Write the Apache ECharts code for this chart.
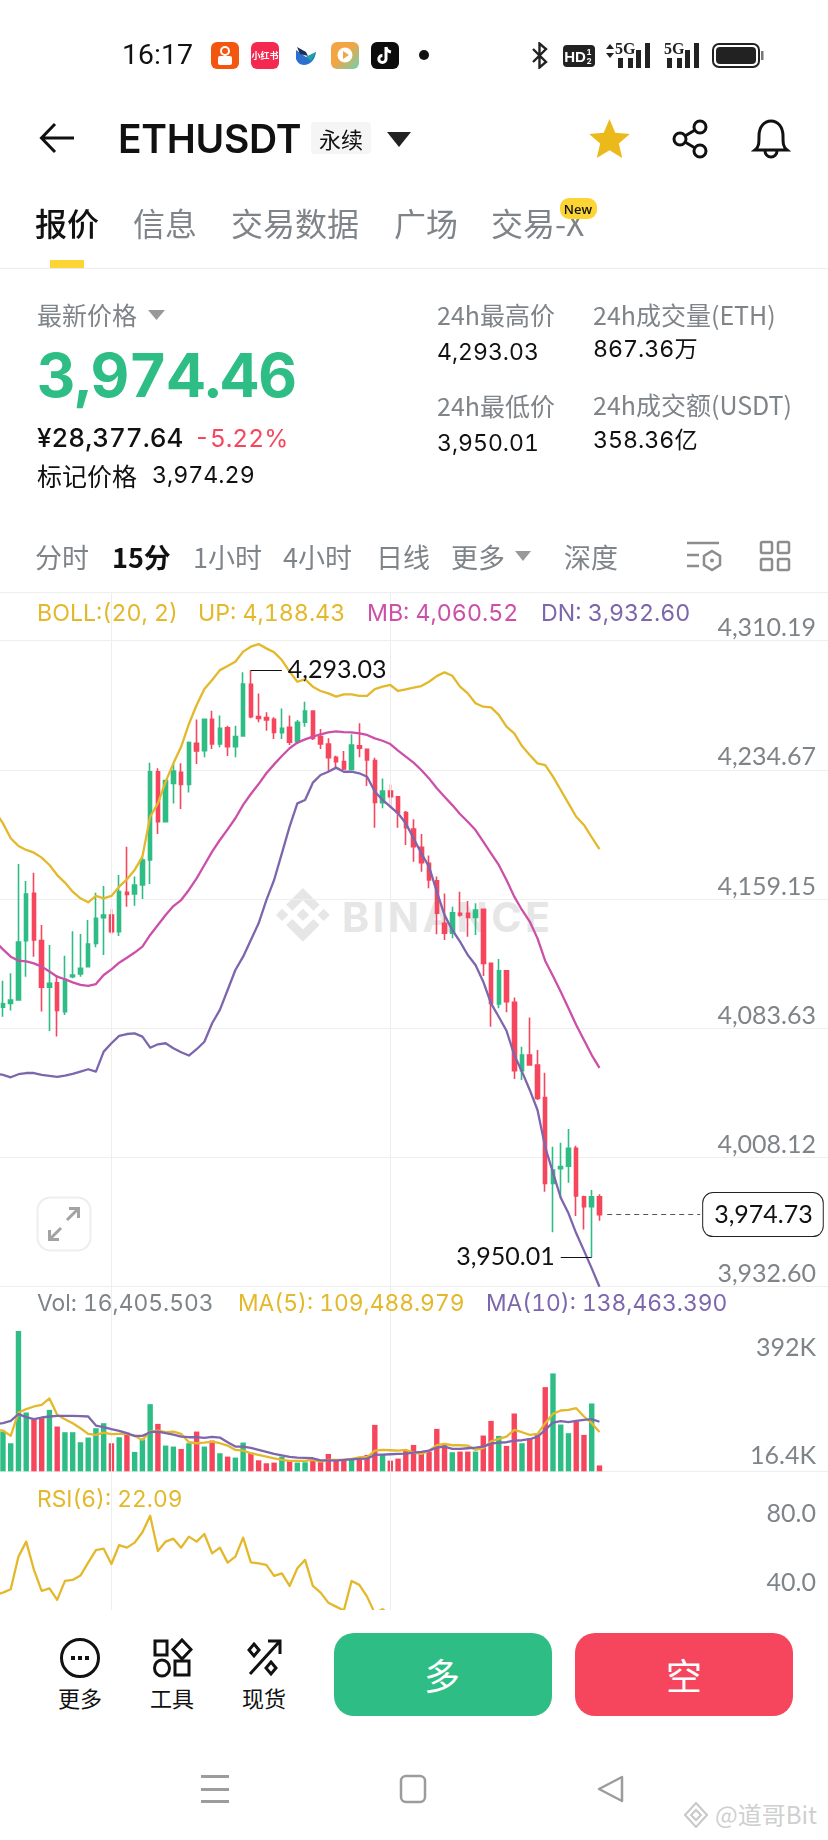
<!DOCTYPE html>
<html>
<head>
<meta charset="utf-8">
<title>ETHUSDT</title>
<script src="https://cdn.jsdelivr.net/npm/echarts@6/dist/echarts.min.js"></script>
<style>
html,body{margin:0;padding:0;background:#fff}
body{position:relative;width:828px;height:1840px;overflow:hidden;font-family:Inter,"Noto Sans CJK SC",sans-serif;font-variant-numeric:tabular-nums}
#main{position:absolute;left:-20px;top:0;width:848px;height:1840px;z-index:1}
.t{position:absolute;white-space:nowrap;line-height:1;transform:translateY(-50%);z-index:2}
.c{transform:translate(-50%,-50%)}
.g{color:#7f8489}
.k{color:#111}
.abs{position:absolute;z-index:2}
.cn{font-family:"Noto Sans CJK SC",sans-serif}
#foot{position:absolute;left:0;top:1610px;width:828px;height:230px;background:#fff;z-index:2}
.ind{font-size:23.2px;font-weight:400}
.ind2{font-size:22.8px;font-weight:400}
</style>
</head>
<body>
<!-- 水印 -->
<svg class="abs" style="left:276px;top:888px;z-index:0" width="54" height="54" viewBox="0 0 126 126" fill="#e6e6e6">
  <path d="M38.171 53.203L62.759 28.616l24.6 24.6 14.307-14.307L62.759 0 23.864 38.896zM0 62.759l14.307-14.308 14.307 14.307-14.307 14.308zM38.171 72.315L62.759 96.902l24.6-24.6 14.313 14.3-.007.007L62.759 125.518 23.864 86.623l-.021-.021zM96.901 62.759l14.307-14.308 14.307 14.307-14.307 14.308zM77.271 62.751h.006v.006L62.759 77.275 48.25 62.765l-.021-.021.021-.02 2.541-2.541 1.235-1.235L62.759 48.24l14.52 14.518z"/>
</svg>
<div class="t" style="left:342px;top:917px;font-size:41px;font-weight:700;color:#e6e6e6;letter-spacing:3.5px;z-index:0">BINANCE</div>

<div id="main"></div>

<!-- 状态栏 -->
<div class="t k" style="left:122px;top:55px;font-size:28.500px;font-family:Roboto">16:17</div>
<div class="abs" style="left:211px;top:42px;width:28px;height:27px;border-radius:6px;background:#f4550f"></div>
<div class="abs" style="left:220px;top:46px;width:10px;height:10px;border:2px solid #fff;border-radius:50%;box-sizing:border-box"></div>
<div class="abs" style="left:218px;top:56px;width:14px;height:9px;background:#fff;border-radius:2px"></div>
<div class="abs" style="left:251px;top:42px;width:28px;height:27px;border-radius:6px;background:#f5294f"></div>
<div class="t c cn" style="left:265px;top:55px;font-size:9px;font-weight:700;color:#fff">小红书</div>
<svg class="abs" style="left:294px;top:44px" width="24" height="24" viewBox="0 0 24 24"><path d="M2 6l10 7 10-5c-1 8-6 13-12 13-4 0-7-3-8-6z" fill="#2d6fd0"/><path d="M3 3l9 5 2 4-8-2z" fill="#1c2f5a"/><path d="M12 13l10-5-5 9z" fill="#18a7a0"/></svg>
<div class="abs" style="left:331px;top:42px;width:28px;height:27px;border-radius:6px;background:linear-gradient(135deg,#f3a443 45%,#6dd2b0)"></div>
<svg class="abs" style="left:337px;top:47px" width="16" height="16" viewBox="0 0 16 16"><circle cx="8" cy="8" r="7.5" fill="#fff"/><path d="M6 4l6 4-6 4z" fill="#f3a443"/></svg>
<div class="abs" style="left:371px;top:42px;width:28px;height:27px;border-radius:6px;background:#0c0c0c"></div>
<svg class="abs" style="left:377px;top:45px" width="17" height="21" viewBox="0 0 17 21" fill="none" stroke-width="3"><path d="M9 2v12a3.6 3.6 0 1 1-3.6-3.6M9 2c.4 3 2.4 4.6 5 5" stroke="#fff"/></svg>
<div class="abs" style="left:419px;top:50px;width:10px;height:10px;border-radius:50%;background:#111"></div>

<svg class="abs" style="left:530px;top:42px" width="20" height="27" viewBox="0 0 20 27" fill="none" stroke="#222" stroke-width="2.4"><path d="M3 7l13 13-6.500 5.500V1.500L16 7 3 20"/></svg>
<div class="abs" style="left:563px;top:45px;width:32px;height:22px;border-radius:4px;background:#222"></div>
<div class="t c" style="left:575px;top:56px;font-size:15px;font-weight:700;color:#fff;font-family:'Liberation Sans Narrow','Liberation Sans'">HD</div>
<div class="t c" style="left:589px;top:52px;font-size:8px;font-weight:700;color:#fff">1</div>
<div class="t c" style="left:589px;top:61px;font-size:8px;font-weight:700;color:#fff">2</div>
<svg class="abs" style="left:605px;top:42px" width="12" height="18" viewBox="0 0 12 18" fill="#222"><path d="M5 2l4 5H1zM5 16l4-5H1z"/></svg>
<div class="t" style="left:615px;top:49px;font-size:16px;font-weight:700;color:#222;font-family:'Liberation Sans Narrow'">5G</div>
<svg class="abs" style="left:617px;top:42px" width="34" height="26" viewBox="0 0 34 26" fill="#222"><rect x="1" y="16" width="5" height="10"/><rect x="11" y="16" width="5" height="10"/><rect x="19" y="8" width="5" height="18"/><rect x="28" y="1" width="5" height="25"/></svg>
<div class="t" style="left:664px;top:49px;font-size:16px;font-weight:700;color:#222;font-family:'Liberation Sans Narrow'">5G</div>
<svg class="abs" style="left:666px;top:42px" width="34" height="26" viewBox="0 0 34 26" fill="#222"><rect x="1" y="16" width="5" height="10"/><rect x="11" y="16" width="5" height="10"/><rect x="19" y="8" width="5" height="18"/><rect x="28" y="1" width="5" height="25"/></svg>
<svg class="abs" style="left:712px;top:42px" width="52" height="27" viewBox="0 0 52 27"><rect x="1" y="2" width="46" height="23" rx="6" fill="none" stroke="#222" stroke-width="2"/><rect x="4" y="5" width="40" height="17" rx="4" fill="#222"/><rect x="49" y="9" width="2.500" height="9" fill="#777"/></svg>

<!-- 标题栏 -->
<svg class="abs" style="left:39px;top:122px" width="36" height="32" viewBox="0 0 36 32" fill="none" stroke="#111" stroke-width="3"><path d="M35 16H3M16 2L2.500 16 16 30"/></svg>
<div class="t k" style="left:118px;top:138px;font-size:39px;font-weight:600;letter-spacing:-.3px">ETHUSDT</div>
<div class="abs" style="left:311px;top:122px;width:60px;height:32px;background:#f5f5f5;border-radius:4px"></div>
<div class="t c k cn" style="left:341px;top:138px;font-size:22px">永续</div>
<svg class="abs" style="left:387px;top:132px" width="24" height="15" viewBox="0 0 24 15" fill="#222"><path d="M0 0h24L12 15z"/></svg>
<svg class="abs" style="left:589px;top:119px" width="41" height="39" viewBox="0 0 24 23" fill="#ecb91a"><path d="M12 0l3.400 8.100 8.600.7-6.500 5.700 2 8.500L12 18.400 4.500 23l2-8.500L0 8.800l8.600-.7z"/></svg>
<svg class="abs" style="left:671px;top:119px" width="40" height="40" viewBox="0 0 40 40" fill="none" stroke="#111" stroke-width="3"><circle cx="29" cy="8" r="6"/><circle cx="9" cy="20" r="6"/><circle cx="29" cy="32" r="6"/><path d="M14 17l10-6M14 23l10 6"/></svg>
<svg class="abs" style="left:751px;top:118px" width="40" height="42" viewBox="0 0 40 42" fill="none" stroke="#111" stroke-width="3"><path d="M4 32c4-3 4-7 4-14C8 9 13 3 20 3s12 6 12 15c0 7 0 11 4 14zM14 33a6 6 0 0 0 12 0"/></svg>

<!-- 页签 -->
<div class="t k cn" style="left:35px;top:222px;font-size:32px;font-weight:500">报价</div>
<div class="t g cn" style="left:133px;top:222px;font-size:32px">信息</div>
<div class="t g cn" style="left:231px;top:222px;font-size:32px">交易数据</div>
<div class="t g cn" style="left:394px;top:222px;font-size:32px">广场</div>
<div class="t g cn" style="left:491px;top:222px;font-size:32px">交易-X</div>
<div class="abs" style="left:560px;top:198px;width:37px;height:21px;background:#fcd535;border-radius:9px"></div>
<div class="t c k" style="left:578px;top:209px;font-size:13px;font-weight:600;font-family:'Open Sans'">New</div>
<div class="abs" style="left:50px;top:260px;width:34px;height:8px;background:#fcd535"></div>
<div class="abs" style="left:0;top:268px;width:828px;height:1px;background:#ececec"></div>

<!-- 行情 -->
<div class="t g cn" style="left:37px;top:314px;font-size:25px">最新价格</div>
<svg class="abs" style="left:148px;top:310px" width="17" height="10" viewBox="0 0 17 10" fill="#999"><path d="M0 0h17L8.500 10z"/></svg>
<div class="t" style="left:37px;top:375px;font-size:60px;font-weight:700;color:#2ebd85;letter-spacing:-.7px">3,974.46</div>
<div class="t k" style="left:37px;top:438px;font-size:26px;font-weight:500">¥28,377.64</div>
<div class="t" style="left:194px;top:438px;font-size:24.5px;color:#f6465d">-5.22%</div>
<div class="t k cn" style="left:37px;top:475px;font-size:25px">标记价格</div>
<div class="t k" style="left:152px;top:476px;font-size:23.2px">3,974.29</div>
<div class="t g cn" style="left:437px;top:314px;font-size:25px">24h最高价</div>
<div class="t k" style="left:437px;top:352px;font-size:23px">4,293.03</div>
<div class="t g cn" style="left:437px;top:405px;font-size:25px">24h最低价</div>
<div class="t k" style="left:437px;top:443px;font-size:23px">3,950.01</div>
<div class="t g cn" style="left:593px;top:314px;font-size:25px">24h成交量(ETH)</div>
<div class="t k" style="left:593px;top:350px;font-size:23.2px">867.36万</div>
<div class="t g cn" style="left:593px;top:404px;font-size:25px">24h成交额(USDT)</div>
<div class="t k" style="left:593px;top:441px;font-size:23.2px">358.36亿</div>

<!-- 周期 -->
<div class="t g cn" style="left:35px;top:556px;font-size:27px">分时</div>
<div class="t k cn" style="left:112px;top:556px;font-size:27px;font-weight:700">15分</div>
<div class="t g cn" style="left:193px;top:556px;font-size:27px">1小时</div>
<div class="t g cn" style="left:283px;top:556px;font-size:27px">4小时</div>
<div class="t g cn" style="left:376px;top:556px;font-size:27px">日线</div>
<div class="t g cn" style="left:451px;top:556px;font-size:27px">更多</div>
<svg class="abs" style="left:515px;top:551px" width="16" height="10" viewBox="0 0 16 10" fill="#999"><path d="M0 0h16L8 10z"/></svg>
<div class="t g cn" style="left:564px;top:556px;font-size:27px">深度</div>
<svg class="abs" style="left:686px;top:541px" width="36" height="31" viewBox="0 0 36 31" fill="none" stroke="#8d8d8d" stroke-width="2.500"><path d="M1 2h32M1 14h12M1 25h12M26 10l8 5v9l-8 5-8-5v-9z"/><circle cx="26" cy="19.500" r="2" fill="#8d8d8d" stroke="none"/></svg>
<svg class="abs" style="left:759px;top:540px" width="32" height="32" viewBox="0 0 32 32" fill="none" stroke="#8d8d8d" stroke-width="2.500"><rect x="2" y="2" width="11" height="11" rx="1.500"/><rect x="19" y="2" width="11" height="11" rx="1.500"/><rect x="2" y="19" width="11" height="11" rx="1.500"/><rect x="19" y="19" width="11" height="11" rx="1.500"/></svg>
<div class="abs" style="left:0;top:592px;width:828px;height:1px;background:#eeeeee"></div>

<!-- 指标说明 -->
<div class="t ind" style="left:37px;top:614px;color:#e3b92b">BOLL:(20, 2)</div>
<div class="t ind" style="left:198px;top:614px;color:#e3b92b">UP: 4,188.43</div>
<div class="t ind" style="left:367px;top:614px;color:#cc50a8">MB: 4,060.52</div>
<div class="t ind" style="left:541px;top:614px;color:#7d66ad">DN: 3,932.60</div>
<div class="t ind2 g" style="left:37px;top:1303px">Vol: 16,405.503</div>
<div class="t ind2" style="left:238px;top:1303px;color:#e3b92b">MA(5): 109,488.979</div>
<div class="t ind2" style="left:486px;top:1303px;color:#7d66ad">MA(10): 138,463.390</div>
<div class="t ind2" style="left:37px;top:1499px;color:#e3b92b">RSI(6): 22.09</div>

<!-- 放大 -->
<svg class="abs" style="left:36px;top:1196px" width="56" height="56" viewBox="0 0 56 56" fill="none"><rect x="1.500" y="1.500" width="53" height="53" rx="13" stroke="#eeeeee" stroke-width="2"/><path d="M31 24l11-11M33 12.500h9.500V22M25 32L14 43M23 43.500h-9.500V34" stroke="#a3a3a3" stroke-width="3"/></svg>

<!-- 底部 -->
<div id="foot"></div>
<svg class="abs" style="left:59px;top:1637px" width="42" height="42" viewBox="0 0 42 42"><circle cx="21" cy="21" r="18.500" fill="none" stroke="#111" stroke-width="3"/><rect x="12" y="19" width="4" height="4" fill="#111"/><rect x="19" y="19" width="4" height="4" fill="#111"/><rect x="26" y="19" width="4" height="4" fill="#111"/></svg>
<div class="t c k cn" style="left:80px;top:1697px;font-size:22px">更多</div>
<svg class="abs" style="left:153px;top:1638px" width="40" height="40" viewBox="0 0 40 40" fill="none" stroke="#111" stroke-width="3"><rect x="2" y="3" width="12" height="14"/><path d="M29 2l9 9.500-9 9.500-9-9.500z"/><ellipse cx="9" cy="30" rx="7.500" ry="8"/><rect x="22" y="23" width="14" height="14"/></svg>
<div class="t c k cn" style="left:172px;top:1697px;font-size:22px">工具</div>
<svg class="abs" style="left:247px;top:1638px" width="36" height="40" viewBox="0 0 36 40" fill="none" stroke="#111" stroke-width="3"><path d="M3 36L33 3M21 3h12v13"/><path d="M7 6l5 6-5 6-5-6zM24 24l5 6-5 6-5-6z"/></svg>
<div class="t c k cn" style="left:264px;top:1697px;font-size:22px">现货</div>
<div class="abs" style="left:334px;top:1633px;width:218px;height:83px;border-radius:20px;background:#2ebd85"></div>
<div class="t c cn" style="left:442px;top:1674px;font-size:36px;color:#fff">多</div>
<div class="abs" style="left:575px;top:1633px;width:218px;height:83px;border-radius:20px;background:#f6465d"></div>
<div class="t c cn" style="left:684px;top:1674px;font-size:36px;color:#fff">空</div>
<svg class="abs" style="left:200px;top:1774px" width="30" height="30" viewBox="0 0 30 30" fill="#9c9c9c"><rect x="1" y="1" width="28" height="3"/><rect x="1" y="14" width="28" height="3"/><rect x="1" y="26" width="28" height="3"/></svg>
<svg class="abs" style="left:398px;top:1774px" width="30" height="30" viewBox="0 0 30 30" fill="none" stroke="#9c9c9c" stroke-width="2.500"><rect x="3" y="2" width="24" height="26" rx="5"/></svg>
<svg class="abs" style="left:596px;top:1774px" width="30" height="30" viewBox="0 0 30 30" fill="none" stroke="#9c9c9c" stroke-width="2.500"><path d="M26 3v24L3 15z" stroke-linejoin="round"/></svg>
<svg class="abs" style="left:684px;top:1802px" width="24" height="26" viewBox="0 0 24 26" fill="none" stroke="#c8c8c8" stroke-width="2"><path d="M12 1l11 12-11 12L1 13z"/><path d="M12 8l5 5-5 5-5-5z"/></svg>
<div class="t cn" style="left:715px;top:1814px;font-size:24px;color:#cfcfcf">@道哥Bit</div>

<script>
// K线数据 (15分), 第一根在屏幕左边缘外
var candleOpen = [4093.0,
  4095.9,4098.2,4100.2,4134.9,4162.5,4134.9,4107.6,4110.3,4093.4,4113.8,
  4115.4,4119.7,4133.3,4148.3,4149.9,4140.1,4163.1,4162.1,4167.4,4182.0,
  4233.6,4204.4,4226.8,4233.2,4226.2,4250.2,4245.9,4264.2,4249.8,4259.3,
  4248.2,4254.5,4284.7,4265.8,4265.2,4264.2,4256.4,4259.5,4251.2,4262.5,
  4269.1,4254.1,4249.8,4242.0,4239.5,4235.0,4248.8,4246.7,4240.1,4215.5,
  4222.3,4219.0,4209.7,4200.1,4189.4,4180.1,4169.9,4145.0,4139.2,4150.8,
  4150.8,4148.5,4153.2,4121.6,4097.8,4117.3,4098.8,4058.9,4068.0,4062.2,
  4043.1,3993.0,4001.6,4003.1,4013.5,3985.2,3979.4,3985.2];
var candleClose = [4096.0,
  4097.9,4100.2,4134.1,4162.1,4135.3,4107.6,4109.9,4094.0,4112.3,4114.8,
  4118.7,4132.9,4147.9,4149.9,4140.1,4163.5,4161.9,4167.4,4182.0,4233.6,
  4204.4,4228.4,4234.0,4226.2,4250.6,4245.7,4264.2,4249.8,4259.0,4248.2,
  4254.1,4284.9,4265.8,4264.8,4263.8,4256.6,4259.0,4250.8,4262.5,4269.1,
  4253.1,4249.8,4241.8,4239.5,4235.2,4249.2,4247.3,4240.5,4215.7,4222.3,
  4219.0,4209.7,4200.9,4189.8,4180.5,4170.3,4150.9,4139.2,4151.2,4149.9,
  4148.5,4152.8,4121.6,4098.2,4117.3,4099.2,4058.9,4068.0,4062.2,4042.7,
  3993.0,4000.8,4002.8,4013.5,3985.6,3979.4,3985.2,3974.73];
var candleLow = [4088.0,
  4090.4,4094.0,4099.8,4113.8,4125.5,4093.4,4082.1,4078.8,4091.4,4112.9,
  4113.8,4119.3,4131.0,4126.5,4138.6,4137.6,4154.7,4155.3,4159.2,4168.0,
  4197.2,4204.0,4215.1,4211.8,4221.4,4238.1,4242.0,4246.9,4247.9,4242.8,
  4242.0,4254.5,4264.8,4262.5,4257.6,4252.7,4252.7,4249.2,4249.8,4259.9,
  4252.1,4246.9,4233.6,4235.6,4234.6,4234.6,4242.0,4225.3,4200.9,4212.2,
  4212.2,4200.9,4190.8,4181.0,4175.2,4165.5,4138.6,4135.3,4136.2,4148.9,
  4137.2,4138.2,4114.2,4084.6,4095.3,4093.0,4054.0,4053.4,4062.2,4041.7,
  3988.1,3964.4,3984.3,3993.4,3973.9,3966.1,3950.01,3971.2];
var candleHigh = [4104.0,
  4111.5,4115.8,4179.7,4169.7,4174.6,4144.0,4132.3,4114.8,4126.1,4140.3,
  4138.8,4147.0,4162.9,4166.8,4153.4,4173.2,4189.8,4172.3,4183.4,4238.9,
  4235.6,4228.8,4238.5,4238.5,4251.2,4264.2,4264.2,4269.3,4266.4,4260.5,
  4260.5,4291.7,4293.03,4279.4,4268.3,4265.4,4270.6,4266.4,4263.8,4274.5,
  4269.1,4258.6,4253.1,4243.0,4245.7,4255.5,4261.9,4246.7,4241.8,4229.7,
  4226.2,4219.0,4210.6,4205.8,4197.2,4184.6,4172.3,4162.5,4154.7,4163.5,
  4158.0,4156.7,4153.2,4121.6,4124.1,4117.3,4101.7,4072.9,4090.0,4070.9,
  4057.7,4014.4,4016.8,4024.8,4015.0,3985.8,3989.1,3986.6];

// BOLL
var bollUp = [4210.3,
  4203.4,4194.7,4190.2,4187.9,4186.3,4183.4,4179.1,4173.2,4168.8,4163.5,
  4159.6,4157.3,4161.0,4159.6,4161.0,4166.4,4170.7,4176.2,4184.0,4207.3,
  4215.1,4227.8,4238.5,4248.2,4261.5,4272.6,4281.9,4287.2,4293.0,4295.4,
  4297.9,4303.8,4306.7,4308.2,4305.7,4303.4,4298.9,4292.1,4286.2,4287.6,
  4283.3,4280.8,4279.4,4277.5,4278.8,4278.8,4277.9,4278.0,4281.9,4283.3,
  4284.3,4280.8,4281.7,4282.7,4283.7,4286.2,4289.5,4291.7,4289.7,4283.3,
  4279.4,4273.6,4271.6,4271.2,4266.8,4259.9,4256.0,4248.6,4243.4,4238.5,
  4237.5,4230.7,4222.9,4215.1,4207.3,4202.5,4195.3,4188.43];
var bollMid = [4134.3,
  4129.8,4125.5,4123.2,4122.8,4121.6,4119.7,4116.8,4113.8,4112.3,4110.5,
  4109.0,4108.4,4109.5,4114.8,4118.1,4122.0,4124.9,4127.9,4131.4,4138.2,
  4144.0,4149.9,4155.1,4158.6,4164.5,4171.3,4179.1,4186.9,4193.7,4199.9,
  4206.4,4214.2,4220.6,4226.4,4232.7,4237.9,4242.8,4247.3,4250.6,4252.5,
  4254.1,4255.5,4256.6,4257.2,4256.8,4256.6,4256.0,4255.1,4253.1,4251.7,
  4249.8,4245.9,4242.4,4238.9,4234.6,4229.7,4223.9,4219.0,4214.1,4208.9,
  4204.4,4199.5,4192.7,4185.9,4179.1,4170.3,4160.6,4152.8,4146.0,4136.2,
  4123.0,4114.2,4105.0,4095.3,4085.6,4076.8,4068.0,4060.52];
var bollDn = [4057.3,
  4056.4,4055.0,4056.8,4057.5,4057.5,4056.4,4055.8,4055.2,4056.0,4057.0,
  4058.3,4059.7,4058.3,4070.0,4074.9,4079.2,4080.3,4080.7,4078.8,4072.3,
  4074.3,4074.9,4072.0,4069.6,4067.7,4071.4,4075.8,4086.6,4094.4,4106.0,
  4117.7,4125.5,4135.3,4145.0,4158.6,4170.3,4185.9,4201.5,4215.1,4217.1,
  4227.2,4231.7,4233.6,4236.0,4233.6,4233.6,4232.7,4230.7,4222.0,4217.1,
  4213.2,4209.3,4203.4,4194.7,4185.9,4178.1,4163.5,4149.8,4141.1,4134.3,
  4126.5,4120.6,4110.9,4098.2,4090.4,4082.2,4068.0,4058.3,4047.6,4035.9,
  4014.1,3999.3,3984.6,3975.5,3963.8,3953.7,3943.3,3932.60];

// 成交量 (K)
var volume = [100.0,
  111.1,78.4,392.0,164.3,145.6,148.4,171.7,125.1,109.2,109.2,
  81.2,94.3,120.4,134.4,78.4,95.2,108.3,54.1,89.6,187.6,
  132.5,71.9,69.1,62.5,78.4,111.1,69.1,85.9,50.4,41.1,
  38.3,80.3,52.3,30.8,22.4,24.3,41.1,29.9,24.3,25.2,
  31.7,27.1,48.5,33.6,31.7,33.6,32.7,45.7,129.7,45.7,
  29.9,35.5,57.9,73.7,50.4,55.1,118.5,73.7,53.2,55.1,
  55.1,55.1,99.9,140.9,98.9,70.9,161.5,78.4,92.4,101.7,
  235.2,273.5,130.7,106.4,139.1,101.7,189.5,16.4];
var volMa5 = [115.7,
  113.9,98.9,164.3,173.6,181.1,185.7,203.5,157.7,145.6,134.4,
  120.4,104.5,101.7,108.3,103.6,104.5,104.5,98.9,87.7,111.1,
  113.9,109.2,111.1,104.5,81.2,78.4,80.3,83.1,78.4,71.9,
  59.7,57.9,50.4,45.7,41.1,36.4,31.7,28.9,28.9,28.9,
  31.7,27.1,31.7,31.7,31.7,34.5,39.2,39.2,57.9,59.7,
  58.8,57.9,59.7,52.3,48.5,57.9,72.8,76.5,72.8,72.8,
  71.9,59.7,64.4,84.0,90.5,97.1,115.7,109.2,101.7,104.5,
  134.4,160.5,169.9,171.7,176.4,153.1,134.4,109.5];
var volMa10 = [131.6,
  134.4,140.9,159.6,151.2,145.6,150.3,153.1,154.9,154.9,154.9,
  154.0,153.1,127.9,123.2,117.6,112.9,106.4,98.9,98.9,109.2,
  111.1,106.4,102.7,97.1,95.2,95.2,93.3,96.1,94.3,81.2,
  69.1,69.1,65.3,59.7,54.1,48.5,44.8,40.1,38.3,37.3,
  36.4,30.8,30.8,29.9,31.7,33.6,34.5,35.5,45.7,46.7,
  47.6,48.5,49.5,52.3,54.1,57.9,66.3,69.1,62.5,62.5,
  64.4,66.3,69.1,77.5,80.3,81.2,85.9,86.8,89.6,97.1,
  115.7,136.3,140.0,137.2,140.9,143.7,145.6,138.5];

// RSI, 后半段被底部栏挡住
var rsi6 = [33.1,
  34.4,36.4,55.3,64.0,47.6,35.4,36.9,30.2,41.2,41.8,
  44.3,51.8,59.1,59.9,51.0,62.0,60.5,63.4,69.4,79.0,
  58.6,64.0,65.7,60.5,66.9,64.0,68.4,57.2,60.5,51.8,
  55.3,66.3,52.0,51.4,50.5,44.1,45.6,38.3,48.5,53.4,
  38.3,34.4,28.6,26.3,24.0,41.2,38.9,32.1,22.4,24.8,
  21.5,19.0,16.5,14.0,12.5,11.5,10.0,11.0,14.0,13.0,
  13.5,15.0,9.0,8.0,12.0,11.0,7.0,9.0,10.0,8.0,
  5.5,12.0,15.0,18.0,13.0,12.0,20.0,22.09];

// 坐标轴刻度
var priceTicks = [3932.60,4008.12,4083.63,4159.15,4234.67,4310.19];
var volTicks = [16.4,392];
var volTickLabels = ['16.4K','392K'];
var rsiTicks = [40,80];
var timeLines = [15,51]; // 竖线位置

var slots = [];
for (var i = 0; i < 108; i++) slots.push(i);

var upColor = '#2ebd85', downColor = '#f6465d';
var yellow = '#e3b92b', magenta = '#cc50a8', purple = '#7d66ad';
var chartFont = 'Lato';
var tickFont = {color:'#7f8489', fontSize:25, fontFamily:chartFont};

function xAxisFor(idx, showLine) {
  return {
    type:'category', gridIndex:idx, data:slots, boundaryGap:true,
    axisLabel:{show:false}, axisTick:{show:false}, splitLine:{show:false},
    axisLine:{show:showLine, lineStyle:{color:'#eeeeee', width:1}}
  };
}
function lineSeries(name, data, color, xi, yi) {
  return {
    name:name, type:'line', data:data, xAxisIndex:xi, yAxisIndex:yi,
    showSymbol:false, symbol:'none', smooth:false, z:5,
    lineStyle:{color:color, width:2.3, join:'round'}, silent:true
  };
}

var candles = candleOpen.map(function(o, i) {
  return [o, candleClose[i], candleLow[i], candleHigh[i]];
});

var myChart = echarts.init(document.getElementById('main'));
myChart.setOption({
  animation:false,
  backgroundColor:'transparent',
  grid:[
    {left:11.35, width:837.35, top:640.7, height:646},
    {left:11.35, width:837.35, top:1331, height:140.3},
    {left:11.35, width:837.35, top:1479.5, height:172.5},
    {left:11.35, width:837.35, top:592, height:1018}
  ],
  xAxis:[xAxisFor(0,false), xAxisFor(1,true), xAxisFor(2,false), xAxisFor(3,false)],
  yAxis:[
    {
      type:'value', gridIndex:0, position:'right', min:3932.60, max:4310.19,
      axisLine:{show:false}, axisTick:{show:false, customValues:priceTicks},
      splitLine:{show:true, lineStyle:{color:'#eeeeee', width:1}},
      axisLabel:Object.assign({
        inside:true, margin:12, customValues:priceTicks, verticalAlign:'bottom', lineHeight:25,
        formatter:function(v){ return v.toLocaleString('en-US',{minimumFractionDigits:2, maximumFractionDigits:2}); }
      }, tickFont)
    },
    {
      type:'value', gridIndex:1, position:'right', min:0, max:392,
      axisLine:{show:false}, axisTick:{show:false, customValues:volTicks}, splitLine:{show:false},
      axisLabel:Object.assign({
        inside:true, margin:12, customValues:volTicks, verticalAlign:'middle',
        formatter:function(v){
          var k = volTicks.indexOf(v);
          return k == 1 ? '{top|'+volTickLabels[k]+'}' : '{low|'+volTickLabels[k]+'}';
        },
        rich:{
          top:Object.assign({padding:[34,0,0,0]}, tickFont),
          low:Object.assign({padding:[0,0,19,0]}, tickFont)
        }
      }, tickFont)
    },
    {
      type:'value', gridIndex:2, position:'right', min:0, max:100,
      axisLine:{show:false}, axisTick:{show:false, customValues:rsiTicks}, splitLine:{show:false},
      axisLabel:Object.assign({
        inside:true, margin:12, customValues:rsiTicks, verticalAlign:'middle',
        formatter:function(v){ return v.toFixed(1); }
      }, tickFont)
    },
    {type:'value', gridIndex:3, min:0, max:1, show:false}
  ],
  series:[
    {
      name:'gridLines', type:'line', xAxisIndex:3, yAxisIndex:3, data:[], z:1,
      markLine:{
        silent:true, symbol:'none', animation:false, label:{show:false},
        lineStyle:{color:'#eeeeee', width:1, type:'solid'},
        data:timeLines.map(function(t){ return {xAxis:t}; })
      }
    },
    {
      name:'kline', type:'candlestick', xAxisIndex:0, yAxisIndex:0, data:candles, z:3,
      barWidth:4,
      itemStyle:{color:upColor, color0:downColor, borderColor:upColor, borderColor0:downColor, borderWidth:1.6},
      markLine:{
        silent:true, symbol:'none', animation:false, z:6,
        data:[
          [{coord:[33,4293.03], lineStyle:{color:'#111', width:1, type:'solid'},
            label:{show:true, position:'end', distance:6, formatter:'4,293.03', color:'#111', fontSize:25, fontFamily:chartFont}},
           {coord:[37,4293.03]}],
          [{coord:[77,3950.01], lineStyle:{color:'#111', width:1, type:'solid'},
            label:{show:true, position:'end', distance:6, formatter:'3,950.01', color:'#111', fontSize:25, fontFamily:chartFont}},
           {coord:[73,3950.01]}],
          [{coord:[79,3974.73], lineStyle:{color:'#555', width:1, type:[5,4]},
            label:{show:true, position:'end', distance:3, formatter:'3,974.73', color:'#111', fontSize:25, fontFamily:chartFont,
              backgroundColor:'#fff', borderColor:'#222', borderWidth:1, borderRadius:10, padding:[9,10,9,11]}},
           {coord:[91,3974.73]}]
        ]
      }
    },
    lineSeries('UP', bollUp, yellow, 0, 0),
    lineSeries('MB', bollMid, magenta, 0, 0),
    lineSeries('DN', bollDn, purple, 0, 0),
    {
      name:'Vol', type:'bar', xAxisIndex:1, yAxisIndex:1, data:volume, barWidth:5.4, z:3, silent:true,
      itemStyle:{color:function(p){
        return candleClose[p.dataIndex] >= candleOpen[p.dataIndex] ? upColor : downColor;
      }}
    },
    lineSeries('MA5', volMa5, yellow, 1, 1),
    lineSeries('MA10', volMa10, purple, 1, 1),
    lineSeries('RSI6', rsi6, yellow, 2, 2)
  ]
});
</script>
</body>
</html>
